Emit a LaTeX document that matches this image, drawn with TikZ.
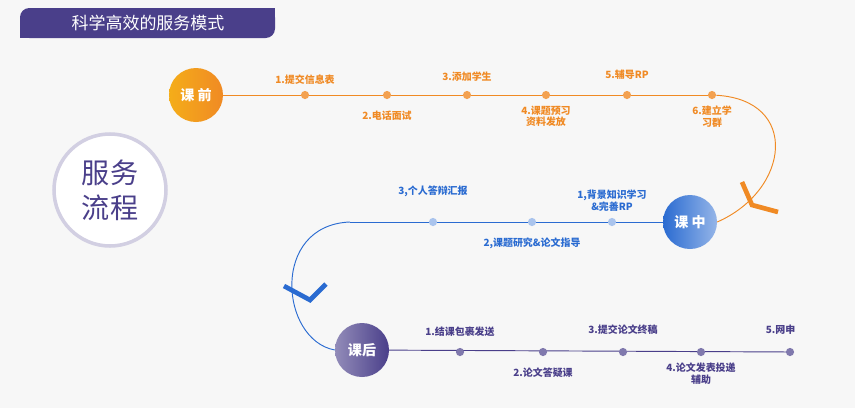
\documentclass[tikz,border=0pt]{standalone}
\usepackage{fontspec}
\setmainfont{Noto Sans CJK SC}
\usetikzlibrary{positioning}
\definecolor{orng}{HTML}{F08A24}
\definecolor{blu}{HTML}{2A6BD1}
\definecolor{purp}{HTML}{4A3F8A}
\begin{document}
\begin{tikzpicture}
  [
    x=0.03cm, y=-0.03cm,
    stage/.style={
       circle,
       minimum size=54*0.03cm,
       inner sep=0pt,
       text=white,
       font=\bfseries\fontsize{12}{14}\selectfont
    },
    dot/.style={
       circle,
       minimum size=7pt,
       inner sep=0pt
    },
    lbl/.style={
       font=\bfseries\fontsize{8.5}{10}\selectfont,
       align=center
    },
    chev/.style={
       line width=4pt,
       line join=miter
    }
  ]
  \fill [gray!6] (0,0) rectangle (855,408);
  \useasboundingbox (0,0) rectangle (855,408);
  % title
  \fill [purp, rounded corners=8pt] (20,8) rectangle (275,38);
  \fill [purp] (20,28) rectangle (35,38);
  \fill [purp] (260,8) rectangle (275,18);
  \node (title) at (148,23) [text=white, font=\fontsize{14.5}{16}\selectfont] {科学高效的服务模式};
  % big circle
  \node (flow) at (110,190) [circle, minimum size=112*0.03cm, fill=white, draw=purp!25, line width=3pt,
     text=purp, align=center, font=\fontsize{24}{30}\selectfont] {服务\\流程};
  % before class
  \node (pre) at (196,95) [stage, left color=orng!70!yellow, right color=orng] {课 前};
  \coordinate (preEnd) at (712,95);
  \draw [orng, line width=0.8pt] (pre) -- (preEnd);
  \foreach \x/\n in {305/p1, 387/p2, 467/p3, 546/p4, 627/p5, 712/p6}
    \node (\n) at (\x,95) [dot, fill=orng!80] {};
  \node (lp1) [lbl, text=orng, above=2pt of p1] {1.提交信息表};
  \node (lp3) [lbl, text=orng, above=4pt of p3] {3.添加学生};
  \node (lp5) [lbl, text=orng, above=6pt of p5] {5.辅导RP};
  \node (lp2) [lbl, text=orng, below=6pt of p2] {2.电话面试};
  \node (lp4) [lbl, text=orng, below=2pt of p4] {4.课题预习\\资料发放};
  \node (lp6) [lbl, text=orng, below=2pt of p6] {6.建立学\\习群};
  % in class
  \node (mid) at (690,222) [stage, left color=blu, right color=blu!50!white] {课 中};
  \draw [orng, line width=0.8pt] (p6) .. controls (800,100) and (790,190) .. (mid.east);
  \draw [orng, chev] (742,182) -- (752,205) -- (778,212);
  \coordinate (midEnd) at (350,222);
  \draw [blu, line width=0.8pt] (mid) -- (midEnd);
  \foreach \x/\n in {612/m1, 532/m2, 433/m3}
    \node (\n) at (\x,222) [dot, fill=blu!40] {};
  \node (lm1) [lbl, text=blu, above=2pt of m1] {1,背景知识学习\\\&完善RP};
  \node (lm2) [lbl, text=blu, below=6pt of m2] {2,课题研究\&论文指导};
  \node (lm3) [lbl, text=blu, above=14pt of m3] {3,个人答辩汇报};
  % after class
  \node (post) at (362,350) [stage, left color=purp!60!white, right color=purp] {课后};
  \draw [blu, line width=0.8pt] (midEnd) .. controls (270,225) and (280,340) .. (post.west);
  \draw [blu, chev] (284,286) -- (310,300) -- (326,284);
  \coordinate (postEnd) at (792,352);
  \draw [purp, line width=0.8pt] (post) -- (postEnd);
  \foreach \x/\n in {460/q1, 543/q2, 623/q3, 701/q4, 790/q5}
    \node (\n) at (\x,352) [dot, fill=purp!70] {};
  \node (lq1) [lbl, text=purp, above=6pt of q1] {1.结课包裹发送};
  \node (lq2) [lbl, text=purp, below=6pt of q2] {2.论文答疑课};
  \node (lq3) [lbl, text=purp, above=8pt of q3] {3.提交论文终稿};
  \node (lq4) [lbl, text=purp, below=2pt of q4] {4.论文发表投递\\辅助};
  \node (lq5) [lbl, text=purp, above=8pt of q5, xshift=-8pt] {5.网申};
\end{tikzpicture}
\end{document}
